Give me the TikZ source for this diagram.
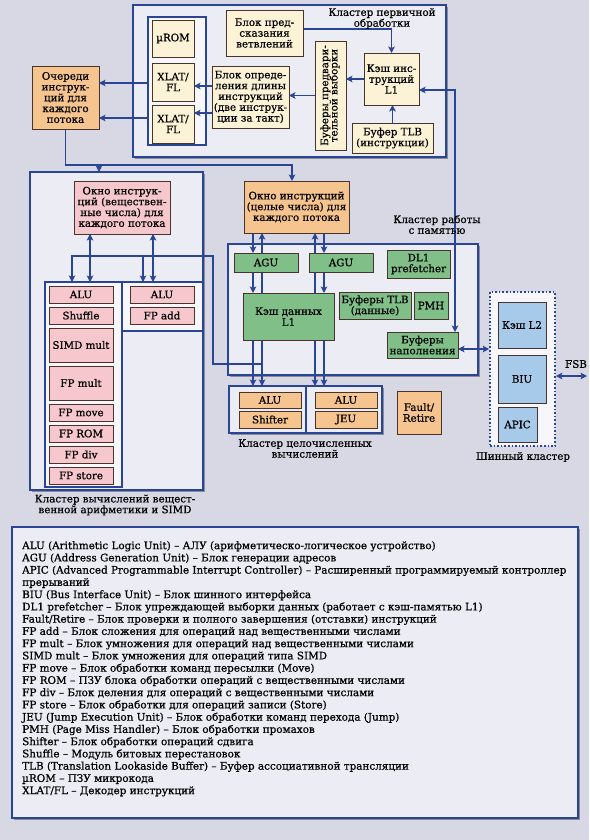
\documentclass[tikz,border=0pt]{standalone}
\usepackage{fontspec}
\setmainfont{DejaVu Serif}[FakeBold=0.6]
\usetikzlibrary{calc,arrows.meta,shadows}
\pgfdeclarelayer{frames}
\pgfdeclarelayer{lines}
\pgfsetlayers{frames,lines,main}
\definecolor{bgc}{RGB}{216,216,228}
\definecolor{framefill}{RGB}{236,236,244}
\definecolor{colfill}{RGB}{246,246,251}
\definecolor{myblue}{RGB}{42,68,150}
\definecolor{boxline}{RGB}{70,52,45}
\definecolor{creamc}{RGB}{252,243,214}
\definecolor{orangec}{RGB}{246,196,142}
\definecolor{pinkc}{RGB}{246,200,205}
\definecolor{greenc}{RGB}{128,192,136}
\definecolor{bluec}{RGB}{168,202,234}
\newcommand\dgboxfont{\fontsize{10.3}{10.8}\selectfont}
\newcommand\dglegfont{\fontsize{10.4}{12.25}\selectfont}
\tikzset{
  frame/.style={draw=myblue, line width=2.2pt, fill=framefill, inner sep=0pt, outer sep=0pt,
    drop shadow={shadow xshift=2pt, shadow yshift=-2pt, opacity=0.35, fill=black}},
  column/.style={draw=myblue, line width=1.8pt, fill=colfill, inner sep=0pt, outer sep=0pt},
  unit/.style={draw=boxline, line width=0.9pt, inner sep=0pt, outer sep=0pt, align=center, font=\dgboxfont},
  cream/.style={unit, fill=creamc},
  orange/.style={unit, fill=orangec},
  pink/.style={unit, fill=pinkc},
  green/.style={unit, fill=greenc},
  lblue/.style={unit, fill=bluec},
  lbl/.style={align=center, font=\dgboxfont, inner sep=0pt},
  arr/.style={draw=myblue, line width=1.7pt, -{Stealth[length=6.5pt,width=6.5pt,inset=1.5pt]}},
  dbl/.style={draw=myblue, line width=1.7pt, {Stealth[length=6.5pt,width=6.5pt,inset=1.5pt]}-{Stealth[length=6.5pt,width=6.5pt,inset=1.5pt]}},
}
\begin{document}
\begin{tikzpicture}[x=1pt,y=-1pt]
\useasboundingbox (0,0) rectangle (589,840);
\begin{pgfonlayer}{frames}
\fill[bgc] (0,0) rectangle (589,840);
% clusters
\node[frame, minimum width=313, minimum height=152] (cl1) at (289.5,81) {};
\node[column, minimum width=58, minimum height=128] (col1) at (177,81) {};
\node[frame, minimum width=173, minimum height=318] (fpc) at (116.5,331) {};
\node[column, minimum width=77, minimum height=205] (fpcolL) at (83.5,384.5) {};
\node[column, minimum width=81, minimum height=49] (fpcolR) at (162.5,306.5) {};
\node[frame, minimum width=250, minimum height=131] (memc) at (353,309.5) {};
\node[frame, minimum width=77, minimum height=47] (intL) at (267.5,409.5) {};
\node[frame, minimum width=76, minimum height=47] (intR) at (344,409.5) {};
\node[draw=myblue, line width=1.6pt, dotted, fill=colfill, inner sep=0pt, minimum width=65, minimum height=154] (busc) at (522.5,369) {};
\node[frame, minimum width=566, minimum height=291] (legend) at (295,672.5) {};
\end{pgfonlayer}

% rails
\coordinate (x72) at (72,0);
\coordinate (x90) at (90,0);
\coordinate (x143) at (143,0);
\coordinate (x153) at (153,0);
\coordinate (x253) at (253,0);
\coordinate (x262) at (262,0);
\coordinate (x292) at (292,0);
\coordinate (x315) at (315,0);
\coordinate (x324) at (324,0);
\coordinate (x455) at (455,0);
\coordinate (j1) at (99,165);
\coordinate (j2) at (262,364);
\coordinate (j3) at (213,256);
\coordinate (fsb) at (587,376);

% top cluster units
\node[cream, minimum width=42, minimum height=37] (urom) at (173,38.5) {µROM};
\node[cream, minimum width=42, minimum height=38] (xlat1) at (173,82) {XLAT/\\FL};
\node[cream, minimum width=42, minimum height=38] (xlat2) at (173,124) {XLAT/\\FL};
\node[cream, minimum width=77, minimum height=46] (bp) at (264.5,33) {Блок пред-\\сказания\\ветвлений};
\node[cream, minimum width=77, minimum height=62] (len) at (250.5,97) {Блок опреде-\\ления длины\\инструкций\\(две инструк-\\ции за такт)};
\node[cream, minimum width=31, minimum height=109] (pref) at (330.5,95.5) {\rotatebox{90}{\begin{tabular}{@{}c@{}}Буферы предвари-\\[-2pt]тельной выборки\end{tabular}}};
\node[cream, minimum width=55, minimum height=52] (l1i) at (391.5,79) {Кэш инс-\\трукций\\L1};
\node[cream, minimum width=81, minimum height=30] (tlbi) at (392.5,138) {Буфер TLB\\(инструкции)};
\node[lbl] (lab1) at (382,18.5) {Кластер первичной\\обработки};
\node[orange, minimum width=67, minimum height=63] (queue) at (65.5,97.5) {Очереди\\инструк-\\ций для\\каждого\\потока};

% FP cluster
\node[pink, minimum width=96, minimum height=53] (fpwin) at (122,207.5) {Окно инструк-\\ций (веществен-\\ные числа) для\\каждого потока};
\node[pink, minimum width=64, minimum height=17] (aluf1) at (81,294.5) {ALU};
\node[pink, minimum width=64, minimum height=17] (shuf) at (81,315.5) {Shuffle};
\node[pink, minimum width=64, minimum height=34] (simd) at (81,345) {SIMD mult};
\node[pink, minimum width=64, minimum height=34] (fpmul) at (81,383) {FP mult};
\node[pink, minimum width=64, minimum height=17] (fpmov) at (81,412.5) {FP move};
\node[pink, minimum width=64, minimum height=17] (fprom) at (81,433.5) {FP ROM};
\node[pink, minimum width=64, minimum height=17] (fpdiv) at (81,454.5) {FP div};
\node[pink, minimum width=64, minimum height=17] (fpst) at (81,475.5) {FP store};
\node[pink, minimum width=64, minimum height=17] (aluf2) at (162,294.5) {ALU};
\node[pink, minimum width=64, minimum height=17] (fpadd) at (162,315.5) {FP add};
\node[lbl] (labfp) at (115,505) {Кластер вычислений вещест-\\венной арифметики и SIMD};

% memory cluster
\node[orange, minimum width=105, minimum height=52] (oknoI) at (296.5,207) {Окно инструкций\\(целые числа) для\\каждого потока};
\node[lbl] (labmem) at (437,224.5) {Кластер работы\\с памятью};
\node[green, minimum width=64, minimum height=19] (agu1) at (266,262.5) {AGU};
\node[green, minimum width=64, minimum height=19] (agu2) at (341,262.5) {AGU};
\node[green, minimum width=63, minimum height=28] (dl1) at (418.5,264) {DL1\\prefetcher};
\node[green, minimum width=91, minimum height=47] (dcache) at (288.5,316.5) {Кэш данных\\L1};
\node[green, minimum width=72, minimum height=27] (tlbd) at (375,305.5) {Буферы TLB\\(данные)};
\node[green, minimum width=34, minimum height=27] (pmh) at (431,305.5) {PMH};
\node[green, minimum width=71, minimum height=26] (fillbuf) at (422.5,345) {Буферы\\наполнения};

% integer cluster
\node[orange, minimum width=62, minimum height=16] (alui1) at (270,400) {ALU};
\node[orange, minimum width=62, minimum height=17] (shif) at (270,419.5) {Shifter};
\node[orange, minimum width=62, minimum height=16] (alui2) at (346,400) {ALU};
\node[orange, minimum width=62, minimum height=17] (jeu) at (346,419.5) {JEU};
\node[lbl] (labint) at (305,448.5) {Кластер целочисленных\\вычислений};
\node[orange, minimum width=44, minimum height=43] (fault) at (419,412.5) {Fault/\\Retire};

% bus cluster
\node[lblue, minimum width=48, minimum height=46] (l2) at (522,325) {Кэш L2};
\node[lblue, minimum width=48, minimum height=48] (biu) at (522,379) {BIU};
\node[lblue, minimum width=39, minimum height=35] (apic) at (517.5,424.5) {APIC};
\node[lbl] (labbus) at (523,457) {Шинный кластер};
\node[lbl] (labfsb) at (576,364) {FSB};

% legend text
\node[anchor=north west, align=left, font=\dglegfont, inner sep=0pt] (legtext) at (22,541) {%
ALU (Arithmetic Logic Unit) – АЛУ (арифметическо-логическое устройство)\\
AGU (Address Generation Unit) – Блок генерации адресов\\
APIC (Advanced Programmable Interrupt Controller) – Расширенный программируемый контроллер\\
прерываний\\
BIU (Bus Interface Unit) – Блок шинного интерфейса\\
DL1 prefetcher – Блок упреждающей выборки данных (работает с кэш-памятью L1)\\
Fault/Retire – Блок проверки и полного завершения (отставки) инструкций\\
FP add – Блок сложения для операций над вещественными числами\\
FP mult – Блок умножения для операций над вещественными числами\\
SIMD mult – Блок умножения для операций типа SIMD\\
FP move – Блок обработки команд пересылки (Move)\\
FP ROM – ПЗУ блока обработки операций с вещественными числами\\
FP div – Блок деления для операций с вещественными числами\\
FP store – Блок обработки для операций записи (Store)\\
JEU (Jump Execution Unit) – Блок обработки команд перехода (Jump)\\
PMH (Page Miss Handler) – Блок обработки промахов\\
Shifter – Блок обработки операций сдвига\\
Shuffle – Модуль битовых перестановок\\
TLB (Translation Lookaside Buffer) – Буфер ассоциативной трансляции\\
µROM – ПЗУ микрокода\\
XLAT/FL – Декодер инструкций};

\begin{pgfonlayer}{lines}
% top cluster
\draw[arr] ($(bp.east)+(0,-4)$) -| (l1i.north);
\draw[arr] (l1i.west) -- (l1i.west -| pref.east);
\draw[arr] (pref.west) -- (pref.west -| len.east);
\draw[arr] (tlbi.north) -- (tlbi.north |- l1i.south);
\draw[arr] ($(len.west)+(0,-11)$) -- ($(xlat1.east)+(0,4)$);
\draw[arr] ($(len.west)+(0,16)$) -- ($(xlat2.east)+(0,-11)$);
\draw[arr] ($(col1.west)+(0,2)$) -- ($(queue.east)+(0,-14.5)$);
\draw[arr] ($(col1.west)+(0,37)$) -- ($(queue.east)+(0,20.5)$);
\draw[dbl] ($(l1i.east)+(0,11)$) -| (fillbuf.north -| x455);
% queue distribution
\draw[arr] (queue.south) |- (j1) -| (oknoI.north -| x292);
\draw[arr] (j1) -- (j1 |- fpc.north);
% FP cluster
\draw[dbl] (fpwin.south -| x90) -- (fpcolL.north -| x90);
\draw[dbl] (fpwin.south -| x153) -- (fpcolR.north -| x153);
\draw[arr] (j2) -| (j3) -| (fpcolL.north -| x72);
\draw[arr] (j3 -| x143) -- (fpcolR.north -| x143);
% memory cluster
\draw[arr] (oknoI.south -| x253) -- (agu1.north -| x253);
\draw[arr] (agu1.south -| x253) -- (dcache.north -| x253);
\draw[arr] (dcache.north -| x262) -- (oknoI.south -| x262);
\draw[arr] (dcache.north -| x315) -- (oknoI.south -| x315);
\draw[arr] (oknoI.south -| x324) -- (agu2.north -| x324);
\draw[arr] (agu2.south -| x324) -- (dcache.north -| x324);
\draw[arr] (dcache.south -| x253) -- (intL.north -| x253);
\draw[arr] (dcache.south -| x262) -- (intL.north -| x262);
\draw[arr] (dcache.south -| x315) -- (intR.north -| x315);
\draw[arr] (dcache.south -| x324) -- (intR.north -| x324);
% bus
\draw[dbl] ($(fillbuf.east)+(0,4)$) -- ($(busc.west)+(0,-20)$);
\draw[dbl] ($(busc.east)+(0,7)$) -- (fsb);
\end{pgfonlayer}
\end{tikzpicture}
\end{document}
